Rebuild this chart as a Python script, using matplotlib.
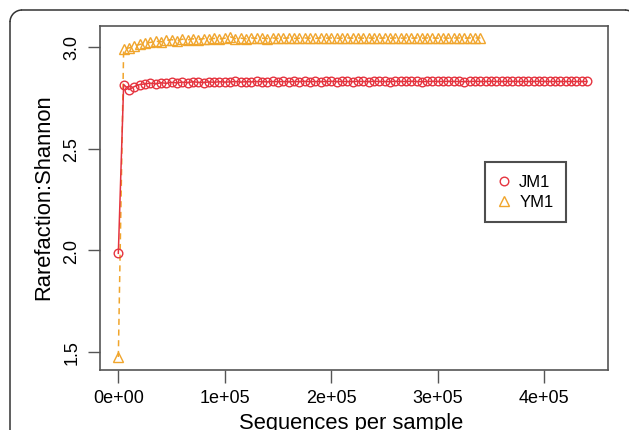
import matplotlib
matplotlib.use('Agg')
import matplotlib.pyplot as plt
from matplotlib.patches import Arc

# 数据 (sequences per sample, in thousands)
jm1_depth_k = [0, 5, 10, 15, 20, 25, 30, 35, 40, 45, 50, 55, 60, 65, 70, 75, 80, 85, 90,
               95, 100, 105, 110, 115, 120, 125, 130, 135, 140, 145, 150, 155, 160, 165,
               170, 175, 180, 185, 190, 195, 200, 205, 210, 215, 220, 225, 230, 235, 240,
               245, 250, 255, 260, 265, 270, 275, 280, 285, 290, 295, 300, 305, 310, 315,
               320, 325, 330, 335, 340, 345, 350, 355, 360, 365, 370, 375, 380, 385, 390,
               395, 400, 405, 410, 415, 420, 425, 430, 435, 440]
jm1_shannon = [1.985, 2.815, 2.790, 2.805, 2.815, 2.818, 2.822, 2.818, 2.824, 2.821,
               2.826, 2.823, 2.827, 2.824, 2.829, 2.826, 2.825, 2.828, 2.826, 2.829,
               2.827, 2.828, 2.830, 2.827, 2.829, 2.828, 2.830, 2.829, 2.828, 2.830,
               2.829, 2.830, 2.828, 2.830, 2.829, 2.831, 2.829, 2.830, 2.829, 2.830,
               2.831, 2.829, 2.830, 2.830, 2.829, 2.831, 2.830, 2.829, 2.831, 2.830,
               2.830, 2.829, 2.831, 2.830, 2.830, 2.831, 2.830, 2.829, 2.830, 2.831,
               2.830, 2.830, 2.831, 2.830, 2.830, 2.829, 2.830, 2.831, 2.830, 2.830,
               2.831, 2.830, 2.830, 2.830, 2.831, 2.830, 2.830, 2.830, 2.830, 2.831,
               2.830, 2.830, 2.830, 2.830, 2.830, 2.830, 2.830, 2.830, 2.830]

ym1_depth_k = [0, 5, 10, 15, 20, 25, 30, 35, 40, 45, 50, 55, 60, 65, 70, 75, 80, 85, 90,
               95, 100, 105, 110, 115, 120, 125, 130, 135, 140, 145, 150, 155, 160, 165,
               170, 175, 180, 185, 190, 195, 200, 205, 210, 215, 220, 225, 230, 235, 240,
               245, 250, 255, 260, 265, 270, 275, 280, 285, 290, 295, 300, 305, 310, 315,
               320, 325, 330, 335, 340]
ym1_shannon = [1.475, 2.990, 2.995, 3.005, 3.012, 3.018, 3.022, 3.028, 3.025, 3.032,
               3.036, 3.030, 3.038, 3.034, 3.040, 3.036, 3.041, 3.037, 3.042, 3.039,
               3.043, 3.050, 3.041, 3.043, 3.040, 3.044, 3.042, 3.043, 3.041, 3.044,
               3.042, 3.043, 3.044, 3.042, 3.043, 3.044, 3.043, 3.042, 3.044, 3.043,
               3.044, 3.043, 3.043, 3.044, 3.043, 3.044, 3.043, 3.044, 3.043, 3.043,
               3.044, 3.043, 3.044, 3.043, 3.044, 3.043, 3.044, 3.043, 3.044, 3.044,
               3.043, 3.044, 3.043, 3.044, 3.044, 3.043, 3.044, 3.044, 3.044]

series_names = ['JM1', 'YM1']
x_ticks = [0, 100000, 200000, 300000, 400000]
x_tick_labels = ['0e+00', '1e+05', '2e+05', '3e+05', '4e+05']
y_ticks = [1.5, 2.0, 2.5, 3.0]
y_tick_labels = ['1.5', '2.0', '2.5', '3.0']

plt.rcParams['font.family'] = ['Liberation Sans', 'DejaVu Sans']

red = '#E5343F'
orange = '#F0A52C'
frame_col = '#333333'

fig = plt.figure(figsize=(6.29, 4.31), dpi=100)

# 外框 (rounded panel border) on a full-figure pixel canvas
bg = fig.add_axes([0, 0, 1, 1], zorder=-1)
bg.set_xlim(0, 629)
bg.set_ylim(431, 0)
bg.axis('off')
r = 12
bg.plot([10, 10], [11 + r, 440], color=frame_col, lw=1.1, clip_on=False)
bg.plot([10 + r, 637 - r], [11, 11], color=frame_col, lw=1.1, clip_on=False)
bg.plot([637, 637], [11 + r, 440], color=frame_col, lw=1.1, clip_on=False)
bg.add_patch(Arc((10 + r, 11 + r), 2 * r, 2 * r, theta1=180, theta2=270,
                 color=frame_col, lw=1.1))
bg.add_patch(Arc((637 - r, 11 + r), 2 * r, 2 * r, theta1=270, theta2=360,
                 color=frame_col, lw=1.1, clip_on=False))

ax = fig.add_axes([0.159, 0.1392, 0.8076, 0.7982])
ax.patch.set_alpha(0)

ym1_x = [d * 1000 for d in ym1_depth_k]
jm1_x = [d * 1000 for d in jm1_depth_k]

h_y, = ax.plot(ym1_x, ym1_shannon, linestyle='--', color=orange, lw=1.1,
               marker='^', markersize=7.5, markerfacecolor='none',
               markeredgecolor=orange, markeredgewidth=1.0, dashes=(4, 3))
h_j, = ax.plot(jm1_x, jm1_shannon, linestyle='-', color=red, lw=1.1,
               marker='o', markersize=6.2, markerfacecolor='none',
               markeredgecolor=red, markeredgewidth=1.0)

ax.set_xlim(-17200, 459800)
ax.set_ylim(1.411, 3.103)
ax.set_xticks(x_ticks)
ax.set_xticklabels(x_tick_labels)
ax.set_yticks(y_ticks)
ax.set_yticklabels(y_tick_labels, rotation=90, va='center')

ax.tick_params(axis='both', length=9, width=1.0, color='#555555',
               labelsize=13, pad=5)
for s in ax.spines.values():
    s.set_color('#555555')
    s.set_linewidth(1.2)

fig.text(44 / 629, 1 - 197 / 431, 'Rarefaction:Shannon', rotation=90,
         ha='center', va='center', fontsize=15.8)
fig.text(351 / 629, 2 / 431, 'Sequences per sample', ha='center', va='baseline',
         fontsize=15.8)

leg = ax.legend([h_j, h_y], series_names, loc='upper left',
                bbox_to_anchor=(0.758, 0.605), fontsize=12,
                frameon=True, fancybox=False, handlelength=0.8,
                handletextpad=0.5, borderpad=0.75, labelspacing=0.3,
                borderaxespad=0)
leg.get_frame().set_edgecolor('#222222')
leg.get_frame().set_linewidth(1.5)
for line in leg.get_lines():
    line.set_linestyle('none')

fig.savefig('out.png', dpi=100)
